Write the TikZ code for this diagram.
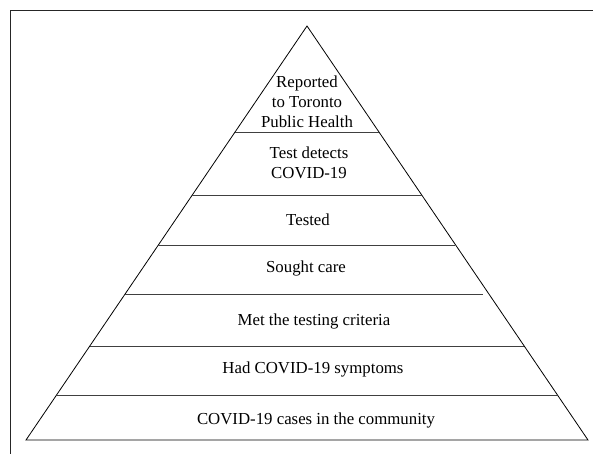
\documentclass[tikz,border=0pt]{standalone}
\usepackage{fontspec}
\setmainfont{Liberation Serif}

\begin{document}
\begin{tikzpicture}[x=1pt,y=-1pt,
    level/.style={font=\fontsize{16.8}{20}\selectfont, align=center, inner sep=0pt},
    edge/.style={line width=0.8pt}]
    \useasboundingbox (0,0) rectangle (593,454);
    % frame
    \draw[line width=1pt, black!85] (593,11) -- (10,11) -- (10,454);

    % pyramid
    \coordinate (apex) at (307,26);
    \coordinate (bl) at (26,440);
    \coordinate (br) at (588,440);
    \draw[edge] (bl) -- (apex) -- (br) -- cycle;
    \foreach \y/\l/\r in {132/235/379, 195/192/422, 245/158/455, 294/125/483, 346/90/524, 395/57/557}
        \draw[edge, black!75] (\l,\y) -- (\r,\y);

    \node[level] (reported) at (307,102) {Reported\\to Toronto\\Public Health};
    \node[level] (detects) at (309,163) {Test detects\\COVID-19};
    \node[level] (tested) at (308,220) {Tested};
    \node[level] (sought) at (306,268) {Sought care};
    \node[level] (criteria) at (314,321) {Met the testing criteria};
    \node[level] (symptoms) at (313,369) {Had COVID-19 symptoms};
    \node[level] (community) at (316,420) {COVID-19 cases in the community};
\end{tikzpicture}
\end{document}
